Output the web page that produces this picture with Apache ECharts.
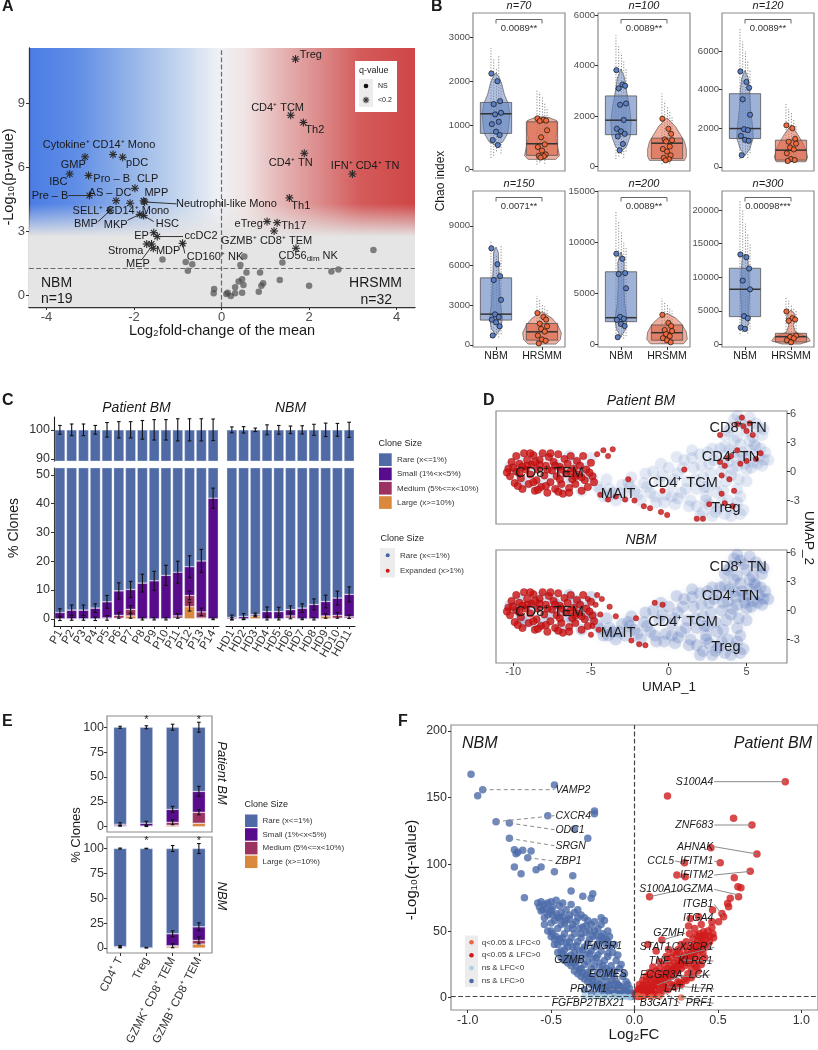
<!DOCTYPE html>
<html>
<head>
<meta charset="utf-8">
<script src="https://cdn.jsdelivr.net/npm/echarts@6.0.0/dist/echarts.min.js"></script>
<style>
html,body{margin:0;padding:0;background:#ffffff;}
#chart{width:818px;height:1050px;}
</style>
</head>
<body>
<div id="chart"></div>
<script>
// ================= PANEL A : volcano of cell types =================
const aNsPoints = [[-1.35,1.69],[-0.82,1.58],[-0.67,1.47],[-0.77,1.17],[-0.17,0.31],[-0.18,0.11],[0.11,0.08],[0.14,0.14],[0.21,-0.02],[0.31,0.39],[0.31,0.11],[0.39,0.66],[0.47,0.77],[0.47,0.14],[0.50,0.50],[0.57,1.08],[0.43,1.44],[0.52,1.83],[0.85,0.19],[0.88,1.08],[0.91,0.47],[0.95,0.58],[1.33,0.73],[1.39,1.55],[2.0,0.47],[2.51,1.13],[2.67,1.23],[3.47,2.14]];
const aSigPoints = [[1.69,11.08],[1.58,8.45],[1.87,8.11],[1.89,6.67],[2.99,5.70],[1.55,4.58],[1.04,3.47],[1.27,3.42],[1.20,3.03],[1.70,2.22],[-0.89,2.45],[-2.48,6.61],[-3.12,6.50],[-2.26,6.48],[-3.47,5.70],[-3.04,5.63],[-1.98,5.03],[-3.02,4.69],[-2.41,4.45],[-1.78,4.44],[-1.76,4.39],[-2.09,4.33],[-2.55,4.00],[-1.87,3.81],[-1.78,3.75],[-1.55,2.95],[-1.47,2.77],[-1.71,2.42],[-1.56,2.22],[-1.60,2.42]];
const aLabelText = ['Treg','CD4⁺ TCM','Th2','CD4⁺ TN','IFN⁺ CD4⁺ TN','Th1','eTreg','Th17','GZMB⁺ CD8⁺ TEM','{a|CD56}{b|dim}{a| NK}','CD160⁺ NK','Cytokine⁺ CD14⁺ Mono','GMP','pDC','IBC','Pro – B','CLP','Pre – B','AS – DC','MPP','Neutrophil-like Mono','SELL⁺ CD14⁺ Mono','BMP','MKP','HSC','EP','ccDC2','Stroma','MDP','MEP'];
const aLabelX = [2.04,1.28,2.13,1.58,3.28,1.81,0.62,1.65,1.03,1.98,-0.15,-2.80,-3.39,-1.93,-3.73,-2.51,-1.69,-3.92,-2.55,-1.49,0.11,-2.30,-3.10,-2.42,-1.24,-1.83,-0.47,-2.19,-1.22,-1.91];
const aLabelY = [11.28,8.81,7.77,6.2,6.08,4.2,3.36,3.28,2.55,1.86,1.80,7.06,6.13,6.2,5.34,5.47,5.47,4.69,4.80,4.83,4.30,3.95,3.34,3.31,3.34,2.81,2.80,2.11,2.11,1.47];
const aLinks = [[-3.50,4.69,-3.02,4.69],[-1.76,4.39,-1.03,4.30],[-2.82,3.47,-2.55,3.98],[-2.15,3.53,-1.87,3.81],[-1.55,3.47,-1.78,3.75],[-1.45,2.77,-0.88,2.77],[-1.83,1.67,-1.60,2.30],[-0.89,2.45,-0.84,1.98]];
const aTicksX = [-4,-2,0,2,4];
const aTicksY = [0,3,6,9];

// ================= PANEL B : Chao index =================
const bGroups = ['NBM','HRSMM'];
const bTitles = ['n=70','n=100','n=120','n=150','n=200','n=300'];
const bPvals = ['0.0089**','0.0089**','0.0089**','0.0071**','0.0089**','0.00098***'];
const bRanges = [[-45,3544],[-170,6080],[-220,7980],[-170,11640],[-265,15060],[-400,22860]];
const bTicks = [[0,1000,2000,3000],[0,2000,4000,6000],[0,2000,4000,6000],[0,3000,6000,9000],[0,5000,10000,15000],[0,5000,10000,15000,20000]];
const bNbmBox = [[809,1255,1512],[1267,1840,2800],[1465,1983,3793],[1865,2318,5065],[2222,2614,7124],[4129,8209,11343]];
const bHrsBox = [[310,574,1073],[320,930,1130],[345,862,1380],[350,980,1610],[400,1140,1900],[350,1140,1640]];
const bNbmDots = [
  [2169,1995,1542,1474,1277,1240,1073,1020,847,771,658,544],
  [3820,3250,3200,3100,2500,2450,1850,1500,1400,1300,1200,900,650],
  [4950,4400,4100,3500,2700,1950,1900,1600,1400,1350,600],
  [7300,6100,5200,4900,3400,2300,2100,1900,1700,1400,700],
  [8900,8400,7000,6900,5500,2700,2500,2400,2000,1800,700],
  [13400,13000,11300,9500,8200,4200,3900,2500,2300]];
const bHrsDots = [
  [1150,1120,1100,1090,880,720,560,500,420,330,300,290,260],
  [1900,1500,1300,1080,1050,1000,800,700,600,450,350,300,250],
  [2150,2000,1450,1300,1200,1000,900,700,400,350,300],
  [2400,2100,1900,1600,1400,1200,1000,700,400,300,100],
  [2900,2100,1800,1400,1300,1000,800,600,400,200],
  [4900,3900,3700,3500,1300,1100,900,600,300]];
const bNbmCi = [
  [[250,2750],[300,2500],[400,2300],[500,2600],[350,2000]],
  [[300,5200],[400,4800],[500,4500],[350,4200],[600,3900]],
  [[400,7200],[500,6500],[600,6000],[450,5500],[700,5000]],
  [[500,7800],[600,7200],[700,6800],[550,6300],[800,7500]],
  [[500,13000],[600,12000],[700,11000],[550,10000],[800,9500]],
  [[1500,21500],[1800,20000],[2000,18000],[1600,16500],[2200,15000]]];
const bHrsCi = [
  [[100,1800],[150,1750],[200,1650],[120,1500],[250,1400]],
  [[100,2900],[150,2600],[200,2400],[120,2200],[250,2000]],
  [[150,3300],[200,3000],[250,2800],[180,2500],[300,2200]],
  [[50,3700],[100,3400],[150,3100],[80,2900],[200,2700]],
  [[50,4500],[100,4200],[150,3900],[80,3600],[200,3300]],
  [[50,7000],[100,6500],[150,6000],[80,5500],[200,5000]]];
const bNbmViolin = [
  [[529,0],[620,0.15],[800,0.25],[1000,0.28],[1250,0.3],[1500,0.26],[1700,0.18],[1950,0.12],[2100,0.06],[2184,0]],
  [[600,0],[800,0.12],[1200,0.2],[1800,0.22],[2400,0.18],[3000,0.12],[3500,0.08],[3867,0]],
  [[600,0],[900,0.1],[1500,0.18],[2200,0.16],[3000,0.12],[4000,0.1],[4600,0.07],[5000,0]],
  [[730,0],[1200,0.1],[2000,0.14],[3000,0.1],[4500,0.08],[6000,0.06],[7000,0.05],[7400,0]],
  [[750,0],[1500,0.1],[2500,0.13],[4000,0.08],[6000,0.06],[8000,0.07],[9085,0]],
  [[2140,0],[3000,0.08],[5000,0.08],[8000,0.1],[11000,0.08],[13000,0.06],[13482,0]]];
const bHrsViolin = [
  [[219,0.3],[300,0.38],[500,0.34],[700,0.3],[900,0.33],[1100,0.32],[1170,0.15],[1187,0]],
  [[250,0.38],[400,0.42],[700,0.42],[1000,0.38],[1300,0.28],[1600,0.18],[1930,0]],
  [[260,0.32],[500,0.36],[900,0.32],[1300,0.24],[1700,0.14],[2155,0]],
  [[50,0.3],[400,0.4],[900,0.42],[1500,0.34],[2000,0.22],[2500,0]],
  [[50,0.36],[500,0.44],[1200,0.42],[2000,0.32],[2600,0.18],[3040,0]],
  [[50,0.2],[500,0.42],[1100,0.36],[1800,0.1],[2800,0.05],[3800,0.1],[4500,0.08],[5124,0]]];

// ================= PANEL C : clone size per sample =================
const cPatients = ['P1','P2','P3','P4','P5','P6','P7','P8','P9','P10','P11','P12','P13','P14'];
const cDonors = ['HD1','HD2','HD3','HD4','HD5','HD6','HD7','HD8','HD9','HD10','HD11'];
const cPatExpanded = [2.2,3.0,3.0,3.7,5.9,9.7,10.2,12.4,13.2,15.1,16.2,18.1,20.1,41.9];
const cPatMedium = [0,0,0,0,0.3,1.0,2.3,0,0,0,0.8,3.9,2.1,0];
const cPatLarge = [0,0,0,0,0,0.2,1.0,0,0,0,0.2,4.2,0.3,0];
const cPatErrTop = [1.5,2,2,1.5,2.5,2.8,2.8,3.2,3.5,3.5,3.8,3.8,3.8,3.7];
const cPatErrExp = [1.3,1.8,1.8,1.5,2.2,2.8,2.8,3.1,3.3,3.5,3.8,3.8,4.0,3.5];
const cPatErrMed = [0.6,0.5,0.5,0.6,0.8,1.0,1.3,0.4,0.4,0.4,0.8,1.5,1.3,0.3];
const cPatErrLarge = [0,0,0,0,0,0,0.8,0,0,0,0,1.5,0,0];
const cHdExpanded = [0.5,0.8,1.5,2.5,2.5,3.2,3.7,5.0,6.0,7.2,8.5];
const cHdMedium = [0,0,0,0,0,0.8,0,0,0,1.0,0.5];
const cHdLarge = [0,0,1.0,0,0,0.2,0,0,1.0,0.2,0.2];
const cHdErrTop = [1,1.1,0.6,1.7,1.5,1.3,1.4,1.9,2.3,2.2,2.6];
const cHdErrExp = [0.8,1,0.5,1.6,1.5,1.3,1.5,1.9,2.2,2.4,2.6];
const cHdErrMed = [0.4,0.3,0.3,0.4,0.4,1.0,0.3,0.4,0.8,1.0,0.6];
const cTicksTop = [90,100];
const cTicksBottom = [0,10,20,30,40,50];
const cloneSizeNames = ['Rare (x<=1%)','Small (1%<x<5%)','Medium (5%<=x<10%)','Large (x>=10%)'];

// ================= PANEL D : UMAP =================
const dBlueCloud = [[-10.2,0.5],[-9.6,1.2],[-9.5,-0.8],[-8.8,0.3],[-8.5,-1.5],[-8.2,1.4],[-7.6,-0.4],[-7.4,1.0],[-7,-1.8],[-6.8,0.2],[-6.4,1.6],[-6.2,-1],[-5.8,0.6],[-5.6,-2],[-5.2,-0.5],[-5,1.4],
 [-4.6,-1.5],[-4.2,-2.6],[-4,-0.8],[-3.6,-2.2],[-3.4,-3],[-3,-1.4],[-2.8,-2.6],[-2.4,-0.6],[-2.2,-2],[-1.8,-3],[-1.6,-1.2],[-1.2,-2.2],[-1,0],[-0.8,-3.2],[-0.6,-1],[-0.2,-2.4],[0,0.4],[0.2,-1.4],[0.4,-3.4],[0.6,-0.2],[0.8,-2.2],[1,1.2],[1.2,-1],[1.4,-3],[1.6,0.4],[1.8,-1.8],[2,1.8],[2.2,-0.6],[2.4,-2.6],[2.6,0.8],[2.8,2.4],[3,-1.2],[3.2,1.6],[3.4,0],
 [3.6,2.6],[3.8,1],[4,-0.4],[4.2,2],[4.4,0.6],[4.6,2.8],[4.8,1.4],[5,0.2],[5.2,2.2],[5.4,1],[5.6,2.6],[5.8,1.6],[6,0.6],[6.2,2],[6.4,1.2],
 [1.8,-3.6],[2.2,-4.2],[2.6,-3.4],[2.8,-4.6],[3.2,-3.8],[3.6,-4.4],[3.8,-3],[4.2,-3.8],[4.6,-2.6],[4.8,-4],[4.4,-1.8],[5,-1],
 [3.6,3.8],[4,4.6],[4.4,3.6],[4.6,5.2],[5,4.2],[5.2,5.6],[5.4,3.6],[5.8,4.6],[6,3.8],[4.2,5.4],
 [-0.5,0.8],[0.5,1.5],[1.5,2.2],[-1.5,-0.2],[2.5,-1.6],[3.5,-2],[0.2,-2.6],[-2.5,-1.6],[-3.8,-1.8],
 [-9.8,0.2],[-9.2,-1.2],[-8.6,0.9],[-7.9,-1.2],[-7.2,0.6],[-6.6,-0.6],[-6,1.0],[-5.4,0.3],[-4.9,-0.6],[-4.4,-1.9],[-3.9,-2.6],[-3.2,-2.2],[-2.6,-1.2],[-2,-2.4],[-1.4,-1.6],[-0.9,-2.6],[-0.4,-0.4],[-0.3,-3.2],[0.3,-0.8],[0.6,-2.8],[0.9,0.4],[1.1,-1.8],[1.3,-3.6],[1.5,1.4],[1.7,-0.8],[2.1,0.6],[2.3,-1.6],[2.5,2],[2.7,-0.2],[2.9,1.2],[3.1,-2.2],[3.3,2.4],[3.5,0.8],[3.7,-1],[3.9,2.2],[4.1,0.2],[4.3,1.4],[4.5,-0.8],[4.7,2],[4.9,0.8],[5.1,1.6],[5.3,0.4],[5.5,2.8],[5.7,0.8],[5.9,2.4],[6.1,1.2],[2,-4.6],[2.4,-3],[3,-4.2],[3.4,-3.2],[4,-4.6],[4.4,-3.2],[4.6,-4.4],[3.8,4.2],[4.2,3.2],[4.8,4.8],[5.6,5],[5.2,3.2],[4.4,5.8],[6.1,4.4]];
const dRedBlob = [[-10.3,0.3],[-10.2,-0.5],[-10.1,1.0],[-9.9,-1.2],[-9.8,0.0],[-9.8,1.6],[-9.6,0.8],[-9.5,-0.7],[-9.4,-1.8],[-9.3,1.9],[-9.2,0.2],[-9.1,1.2],[-9.0,-1.3],[-8.9,-0.3],[-8.8,0.7],[-8.7,1.7],[-8.6,-2.0],[-8.5,-0.9],[-8.4,0.2],[-8.3,1.2],[-8.2,-1.6],[-8.1,1.9],[-8.0,-0.4],[-7.9,0.6],[-7.8,-2.2],[-7.7,1.5],[-7.6,-1.1],[-7.5,0.1],[-7.4,1.0],[-7.3,-1.8],[-7.2,-0.5],[-7.1,1.8],[-7.0,0.5],[-6.9,-1.3],[-6.8,-2.3],[-6.7,1.3],[-6.6,-0.2],[-6.5,0.8],[-6.4,-1.7],[-6.3,1.6],[-6.2,-0.8],[-6.1,0.3],[-6.0,-1.3],[-5.9,1.1],[-5.8,-0.3],[-5.7,0.6],[-5.6,-2.0],[-5.5,1.6],[-5.4,-0.9],[-5.3,0.2],[-5.2,-1.6],[-5.0,0.9],[-4.9,-0.5],[-4.8,-1.1],[-9.6,-0.2],[-8.7,-1.1],[-7.9,-1.5],[-6.9,0.2],[-8.3,0.7],[-9.1,0.6],[-7.3,0.6],[-6.0,-0.5],[-7.6,1.9],[-10.0,0.4],[-8.9,1.9],[-10.4,-0.1],[-9.7,-1.5],[-8.4,-1.9],[-7.1,-2.1],[-6.4,-2.2],[-9.4,0.5],[-8.6,1.0],[-7.8,0.2],[-7.0,-0.8],[-6.3,0.0],[-5.6,-0.6],[-5.1,-0.1]];
const dRedPatient = [[-4.6,1.8],[-4.2,2.2],[-3.9,1.6],[-3.6,2.3],[-4.4,-2.4],[-3.9,-2.9],[-3.4,-2.6],[-2.6,-0.8],[-2.8,-2.9],[-2.2,-3.0],[-1.6,-3.6],[-1.2,-3.8],[-0.5,-4.2],[-0.1,-4.5],[1.8,-4.9],[2.2,-4.9],[3.6,-3.3],[3.4,-2.3],[4.2,-2],[4.1,-3.6],[3.4,-0.4],[3.9,-0.8],[1.0,0.2],[-0.4,-2],[3.3,3.8],[3.3,1.0],[3.6,0.6],[4.0,1.6],[4.6,0.8],[5.0,1.1],[5.6,1.3],[4.4,4.9],[4.8,4.7],[5.0,4.2],[5.4,3.8],[5.2,5.0],[4.7,5.6],[5.9,1.9],[4.4,2.2],[3.8,1.4],[2.6,-3.4]];
const dRedNbm = [[-4.6,1.6],[-4.3,1.2],[-3.8,0.4],[-3.4,-0.6],[-2.4,-3.1],[-1.9,-3.5],[-5.0,-2.5],[-4.5,-2.0],[-2.1,-0.8],[-0.4,0.6],[-4.7,0.6],[-4.4,-0.4],[-5.2,1.2],[-4.9,-1.6],[-1.5,-3.6],[-0.9,0.8]];
const dLabelText = ['CD8⁺ TN','CD4⁺ TN','CD8⁺ TEM','MAIT','CD4⁺ TCM','Treg'];
const dLabelX = [4.46,3.97,-7.66,-3.25,0.92,3.67];
const dLabelY = [4.51,1.55,-0.10,-2.31,-1.19,-3.8];
const dTicksX = [-10,-5,0,5];
const dTicksY = [-3,0,3,6];

// ================= PANEL E : clone size per cell type =================
const eCats = ['CD4⁺ T','Treg','GZMK⁺ CD8⁺ TEM','GZMB⁺ CD8⁺ TEM'];
const ePatExpanded = [2.5,3.5,17.5,35.5];
const ePatMedium = [0.8,0.5,3.0,11.0];
const ePatLarge = [0.3,0.2,1.5,3.5];
const ePatErrTop = [1,1.5,3,5];
const ePatErrExp = [1.5,2,3,5];
const ePatErrMed = [0.5,0.5,2.5,2.5];
const eNbmExpanded = [1.5,0.3,14.3,21.3];
const eNbmMedium = [0.5,0,0.8,3.7];
const eNbmLarge = [0.2,0,1.5,4.0];
const eNbmErrTop = [0.5,0.3,3,5];
const eNbmErrExp = [1,0.3,3,4];
const eNbmErrMed = [0.5,0,2,3.5];
const eStars = ['','*','','*'];
const eTicks = [0,25,50,75,100];

// ================= PANEL F : DE volcano =================
const fBlue = [[-0.98,167.5],[-0.91,156],[-0.94,151.5],[-0.48,159.5],[-0.83,132],[-0.75,131],[-0.52,136.5],[-0.36,126.5],[-0.24,140],[-0.24,138],[-0.75,119.5],[-0.28,119.5],[-0.72,111],[-0.70,109],[-0.67,110.5],[-0.62,110],[-0.64,105],[-0.71,108],[-0.72,98],[-0.68,93],[-0.59,96],[-0.56,98],[-0.48,94.5],[-0.37,91.5],[-0.38,80],[-0.66,75],[-0.31,76],[-0.25,78],[-0.26,74.5],
 [-0.58,71],[-0.56,72],[-0.54,70],[-0.52,71],[-0.5,72],[-0.49,68],[-0.47,73],[-0.45,69],[-0.43,71],[-0.41,66],[-0.38,70],[-0.36,64],[-0.34,66],[-0.32,62],[-0.3,60],[-0.28,58],[-0.26,55],[-0.24,57],[-0.22,52],[-0.2,55],[-0.19,48],[-0.17,44],
 [-0.56,65],[-0.54,60],[-0.52,62],[-0.5,56],[-0.48,58],[-0.46,52],[-0.44,55],[-0.42,48],[-0.4,52],[-0.38,45],[-0.36,48],[-0.34,42],[-0.32,45],[-0.3,38],[-0.28,41],[-0.26,35],[-0.24,38],[-0.22,32],[-0.2,35],[-0.18,28],[-0.16,31],[-0.14,24],
 [-0.52,50],[-0.5,46],[-0.48,44],[-0.46,40],[-0.44,42],[-0.42,36],[-0.4,38],[-0.38,32],[-0.36,34],[-0.34,28],[-0.32,30],[-0.3,25],[-0.28,27],[-0.26,22],[-0.24,24],[-0.22,19],[-0.2,21],[-0.18,16],[-0.16,18],[-0.14,13],[-0.12,15],[-0.1,10],
 [-0.46,34],[-0.44,30],[-0.42,28],[-0.4,26],[-0.38,24],[-0.36,20],[-0.34,18],[-0.32,16],[-0.3,14],[-0.28,12],[-0.26,10],[-0.24,9],[-0.22,8],[-0.2,7],[-0.18,6],[-0.16,5],[-0.14,5],[-0.12,4],[-0.1,3],[-0.08,2.5],[-0.06,2],[-0.04,1.5],[-0.02,1],
 [-0.3,6],[-0.26,4],[-0.22,3],[-0.18,2.5],[-0.14,7],[-0.1,6],[-0.06,5],[-0.04,4],[-0.02,3],[-0.08,8],[-0.12,10],[-0.16,12],[-0.2,14],[-0.24,16],[-0.28,19],[-0.32,22],[-0.36,26],[-0.4,30],[-0.44,35],[-0.48,40],[-0.5,50],[-0.54,55],[-0.57,68],
 [-0.18,58],[-0.2,60],[-0.16,50],[-0.15,46],[-0.12,40],[-0.1,32],[-0.08,25],[-0.06,18],[-0.04,10],[-0.16,33],[-0.35,30],[-0.12,20],
 [-0.55,66],[-0.53,67],[-0.51,64],[-0.49,62],[-0.47,63],[-0.45,60],[-0.43,61],[-0.41,58],[-0.39,59],[-0.37,55],[-0.35,57],[-0.33,52],[-0.31,53],[-0.29,49],[-0.27,50],[-0.25,46],[-0.23,47],[-0.21,43],[-0.19,44],[-0.17,40],[-0.15,38],[-0.13,34],[-0.11,28],[-0.09,22],[-0.07,16],[-0.05,12],[-0.03,7],[-0.01,3],[-0.49,48],[-0.47,46],[-0.45,44],[-0.43,45],[-0.41,41],[-0.39,42],[-0.37,38],[-0.35,39],[-0.33,35],[-0.31,36],[-0.29,32],[-0.27,33],[-0.25,29],[-0.23,30],[-0.21,26],[-0.19,24],[-0.17,22],[-0.15,20],[-0.13,18],[-0.11,12],[-0.09,9],[-0.07,7],[-0.05,5],[-0.43,33],[-0.41,31],[-0.39,29],[-0.37,27],[-0.35,23],[-0.33,21],[-0.31,19],[-0.29,17],[-0.27,15],[-0.25,13],[-0.23,11],[-0.21,10],[-0.19,9],[-0.17,8],[-0.15,9],[-0.13,6],[-0.11,5],[-0.09,4],[-0.07,3],[-0.05,2.5],[-0.03,2],[-0.01,1.5],[-0.5,66],[-0.44,64],[-0.39,62],[-0.34,60],[-0.29,54],[-0.24,50],[-0.2,46],[-0.16,42],[-0.22,40],[-0.27,44],[-0.32,48],[-0.37,52],[-0.42,56],[-0.46,60]];
const fLightBlue = [[-0.3,1],[-0.26,0.5],[-0.22,1.5],[-0.18,0.8],[-0.15,0.3],[-0.12,1.2],[-0.09,0.5],[-0.06,0.8],[-0.03,0.4],[-0.2,0.2]];
const fSalmon = [[0.02,1.5],[0.05,0.8],[0.28,0.25],[0.1,0.5],[0.15,1]];
const fRed = [[0.904,162],[0.198,151.25],[0.594,134.5],[0.704,129.5],[0.458,112.5],[0.734,107.75],[0.30,101.25],[0.514,101.25],[0.694,94.75],[0.254,92],[0.304,90.75],[0.598,90],[0.62,83.25],[0.638,82.5],[0.624,75.75],[0.574,74.5],[0.09,75.75],[0.558,70.75],[0.564,68.25],[0.468,65.75],[0.524,63.25],[0.534,60.75],[0.334,59.5],[0.384,60.75],[0.464,57],[0.504,57],[0.324,53.75],[0.464,52.75],[0.414,49.5],[0.474,45],[0.424,47],[0.384,45.75],[0.164,43.25],[0.204,36.25],
 [0.40,44],[0.38,42],[0.36,40],[0.42,40],[0.34,38],[0.4,36],[0.32,35],[0.38,33],[0.3,32],[0.36,30],[0.28,30],[0.34,28],[0.26,28],[0.32,26],[0.24,26],[0.3,24],[0.22,24],[0.28,22],[0.2,22],[0.26,20],[0.18,20],[0.24,18],[0.16,18],[0.22,16],[0.14,16],[0.2,14],[0.12,14],[0.18,12],[0.1,12],[0.16,10],[0.08,10],[0.14,9],[0.06,8],[0.12,7],[0.04,6],[0.1,5],[0.02,4],[0.08,3.5],[0.01,2],[0.06,2],[0.04,1],[0.12,2.5],[0.16,4],[0.2,6],[0.24,8],[0.28,10],[0.3,14],[0.32,18],[0.34,22],[0.36,25],[0.25,32],[0.22,30],[0.3,38],[0.35,44],[0.2,28],[0.18,25],[0.15,22],[0.13,20],[0.11,17],[0.09,15],[0.07,12],[0.05,9],[0.03,7],[0.26,36],[0.28,40],[0.33,48],[0.36,52],[0.4,55],[0.44,50],[0.47,48],[0.45,42],[0.43,38],[0.39,48],[0.13,35],[0.08,40],[0.34,15],[0.38,20],[0.4,25],[0.42,30],[0.18,8],[0.22,10],[0.26,12],[0.1,8],
 [0.02,1],[0.03,3],[0.05,4],[0.07,5],[0.09,7],[0.11,9],[0.13,11],[0.15,13],[0.17,15],[0.19,17],[0.21,19],[0.23,21],[0.25,23],[0.27,25],[0.29,27],[0.31,29],[0.33,31],[0.35,33],[0.37,36],[0.39,38],[0.41,41],[0.06,6],[0.08,6.5],[0.1,7.5],[0.12,10],[0.14,12],[0.16,14],[0.18,16],[0.2,18],[0.22,20],[0.24,22],[0.26,24],[0.28,26],[0.3,28],[0.32,30],[0.34,33],[0.36,35],[0.38,37],[0.03,2],[0.07,2.5],[0.11,3],[0.15,5],[0.19,7],[0.23,9],[0.27,11],[0.31,13],[0.35,17],[0.37,23],[0.39,28],[0.41,34],[0.43,44],[0.45,46],[0.41,46],[0.37,47],[0.31,42],[0.27,34],[0.23,34],[0.19,31],[0.15,27],[0.11,23],[0.09,19],[0.07,16],[0.05,13],[0.03,10],[0.02,6],[0.01,4]];
// gene label: [name, pointX, pointY, labelX, labelY, anchor]
const fLabels = [
 ['VAMP2',-0.91,156,-0.48,156,'left'],['CXCR4',-0.83,132,-0.48,136.5,'left'],['ODC1',-0.75,131,-0.48,126,'left'],['SRGN',-0.75,119.5,-0.48,114,'left'],['ZBP1',-0.64,105,-0.48,102.5,'left'],
 ['IFNGR1',-0.16,30,-0.19,38.75,'center'],['GZMB',-0.35,20,-0.39,28,'center'],['EOMES',-0.09,14,-0.16,17.5,'center'],['PRDM1',-0.08,6,-0.16,6.5,'right'],['FGFBP2',-0.36,-0.5,-0.374,-4.25,'center'],['TBX21',-0.12,2,-0.156,-4.25,'center'],
 ['S100A4',0.904,162,0.478,162,'right'],['ZNF683',0.704,129.5,0.478,129.5,'right'],['AHNAK',0.734,107.75,0.478,113.25,'right'],['CCL5',0.30,101.25,0.244,102.5,'right'],['IFITM1',0.514,101.25,0.478,102.5,'right'],['IFITM2',0.694,94.75,0.478,92,'right'],['S100A10',0.09,75.75,0.294,81.25,'right'],['GZMA',0.624,77,0.478,81.25,'right'],['ITGB1',0.534,60.75,0.478,70,'right'],['ITGA4',0.374,59.5,0.478,59.5,'right'],['GZMH',0.164,43.25,0.304,48.25,'right'],['STAT1',0.204,36.25,0.224,37.75,'right'],['CX3CR1',0.254,30.75,0.478,37.75,'right'],['TNF',0.134,25.75,0.214,27.5,'right'],['KLRG1',0.294,28.25,0.474,27.5,'right'],['FCGR3A',0.134,9.5,0.294,17,'right'],['LCK',0.274,15.75,0.454,17,'right'],['LAT',0.194,8.25,0.294,6.5,'right'],['IL7R',0.294,8.25,0.478,6.5,'right'],['B3GAT1',0.174,4.5,0.274,-4.25,'right'],['PRF1',0.28,0.25,0.474,-4.25,'right']];
const fTicksX = [-1,-0.5,0,0.5,1];
const fTicksY = [0,50,100,150,200];
const fLegendNames = ['q<0.05 & LFC<0','q<0.05 & LFC>0','ns & LFC<0','ns & LFC>0'];

// ================= RENDERING =================
const FONT = '"Liberation Sans", Arial, Helvetica, sans-serif';
const COL = {rare:'#4f6aa4', small:'#580c8c', medium:'#9c3262', large:'#d9883e'};
const JIT_DOT = [-0.1,0.03,0.09,-0.05,0.11,-0.02,0.06,-0.09,0.0,0.08,-0.07,0.04,-0.03];
const JIT_CI = [-0.11,-0.05,0.01,0.06,0.11];
const chart = echarts.init(document.getElementById('chart'));
const grid = [], xAxis = [], yAxis = [], series = [], graphic = [];
const plainNum = v => String(v);

function sty(o){ if(o.align){o.textAlign=o.align;} if(o.verticalAlign){o.textVerticalAlign=o.verticalAlign;} return o; }
function gText(x,y,text,font,opt){
  opt = opt||{};
  graphic.push({type:'text', x:x, y:y, z:100, silent:true, rotation:opt.rotation||0,
    style:sty({text:text, font:font, fill:opt.fill||'#1a1a1a', align:opt.align||'center', verticalAlign:opt.va||'middle'})});
}
function gRect(x,y,w,h,fill,stroke){ graphic.push({type:'rect', z:99, silent:true, shape:{x:x,y:y,width:w,height:h}, style:{fill:fill, stroke:stroke||null, lineWidth:stroke?1:0}}); }
function gCircle(cx,cy,r,fill){ graphic.push({type:'circle', z:100, silent:true, shape:{cx:cx,cy:cy,r:r}, style:{fill:fill}}); }
function addGrid(g){ grid.push(g); return grid.length-1; }
function vAxis(gi,min,max,ticks,o){
  o=o||{};
  const lab = {show:o.label!==false, customValues:ticks, fontSize:o.fs||12, color:o.lc||'#4d4d4d', fontFamily:FONT, margin:(o.margin==null?4:o.margin), formatter:o.fmt||plainNum};
  return {type:'value', gridIndex:gi, min:min, max:max, position:o.pos, splitLine:{show:false},
    axisLine:{show:!!o.line, onZero:false, lineStyle:{color:o.lineColor||'#1a1a1a', width:o.lineWidth||1.1}},
    axisTick:{show:o.tick!==false, customValues:ticks, length:3, lineStyle:{color:'#333', width:1}},
    axisLabel:lab};
}
function cAxis(gi,cats,o){
  o=o||{};
  return {type:'category', gridIndex:gi, data:cats, boundaryGap:true, splitLine:{show:false},
    axisLine:{show:!!o.line, onZero:false, lineStyle:{color:'#1a1a1a', width:1.1}},
    axisTick:{show:!!o.tick, alignWithLabel:true, length:3, lineStyle:{color:'#333'}},
    axisLabel:{show:!!o.label, interval:0, rotate:o.rotate||0, fontSize:o.fs||11, color:o.lc||'#1a1a1a', fontFamily:FONT, margin:o.margin||4}};
}
function textSeries(gi, xs, ys, texts, font, extra){
  series.push({type:'custom', xAxisIndex:gi, yAxisIndex:gi, silent:true, z:8,
    data: xs.map((x,k)=>[x, ys[k]]),
    renderItem:function(p,api){
      const c = api.coord([api.value(0), api.value(1)]);
      return {type:'text', x:c[0], y:c[1], style:sty(Object.assign({text:texts[p.dataIndex], font:font, fill:'#1a1a1a', align:'center', verticalAlign:'middle'}, extra||{}))};
    }});
}
function errSeries(gi, items){
  series.push({type:'custom', xAxisIndex:gi, yAxisIndex:gi, silent:true, z:7, data:items,
    renderItem:function(p,api){
      const x = api.coord([api.value(0), 0])[0];
      const y1 = api.coord([api.value(0), api.value(1)-api.value(2)])[1];
      const y2 = api.coord([api.value(0), api.value(1)+api.value(2)])[1];
      const st = {stroke:'#111', lineWidth:1.1};
      return {type:'group', children:[
        {type:'line', shape:{x1:x,y1:y1,x2:x,y2:y2}, style:st},
        {type:'line', shape:{x1:x-1.8,y1:y1,x2:x+1.8,y2:y1}, style:st},
        {type:'line', shape:{x1:x-1.8,y1:y2,x2:x+1.8,y2:y2}, style:st}]};
    }});
}
function stackBars(gi, expanded, medium, large, barOpt){
  const smallPart = expanded.map((t,k)=>t - medium[k] - large[k]);
  const rare = expanded.map(t=>100 - t);
  [[large,COL.large],[medium,COL.medium],[smallPart,COL.small],[rare,COL.rare]].forEach(function(s){
    series.push(Object.assign({type:'bar', xAxisIndex:gi, yAxisIndex:gi, stack:'s'+gi, data:s[0], silent:true,
      itemStyle:{color:s[1], borderColor:'rgba(230,235,245,0.55)', borderWidth:0.6}}, barOpt));
  });
}
function asteriskShape(x,y,r,stroke){
  const d = r*0.72, st = {stroke:stroke||'#2b2b2b', lineWidth:1.1};
  return [
    {type:'line', shape:{x1:x-r,y1:y,x2:x+r,y2:y}, style:st},
    {type:'line', shape:{x1:x,y1:y-r,x2:x,y2:y+r}, style:st},
    {type:'line', shape:{x1:x-d,y1:y-d,x2:x+d,y2:y+d}, style:st},
    {type:'line', shape:{x1:x-d,y1:y+d,x2:x+d,y2:y-d}, style:st}];
}

// ---------- Panel A ----------
const gA = addGrid({left:29, top:48, width:386, height:259, show:true, borderWidth:0,
  backgroundColor:{type:'linear', x:0, y:0, x2:1, y2:0, colorStops:[
    {offset:0,color:'#4a7de4'},{offset:0.12,color:'#5f8de6'},{offset:0.25,color:'#8fb0e8'},{offset:0.38,color:'#c0d3ee'},
    {offset:0.49,color:'#eef0f5'},{offset:0.56,color:'#f0e4e4'},{offset:0.65,color:'#e6b6b6'},{offset:0.75,color:'#dc8c8c'},
    {offset:0.86,color:'#d45a5a'},{offset:1,color:'#cf4646'}]}});
xAxis.push(vAxis(gA,-4.4,4.42,aTicksX,{line:true, lineColor:'#333', lineWidth:1.3, fs:13, margin:4}));
yAxis.push(vAxis(gA,-0.53,11.6,aTicksY,{line:true, lineColor:'#333', lineWidth:1.3, fs:13, margin:4}));
series.push({type:'scatter', xAxisIndex:gA, yAxisIndex:gA, data:aNsPoints, symbolSize:6.5, silent:true, z:4,
  itemStyle:{color:'rgba(75,75,75,0.85)'},
  markArea:{silent:true, itemStyle:{color:{type:'linear',x:0,y:0,x2:0,y2:1,colorStops:[{offset:0,color:'rgba(229,229,229,0)'},{offset:0.32,color:'rgba(229,229,229,1)'},{offset:1,color:'rgba(229,229,229,1)'}]}},
    data:[[{yAxis:4.3},{yAxis:-0.53}]]},
  markLine:{silent:true, symbol:['none','none'], label:{show:false}, lineStyle:{type:'dashed', color:'#6b6b6b', width:1.2},
    data:[{xAxis:0},{yAxis:1.3}]}});
series.push({type:'custom', xAxisIndex:gA, yAxisIndex:gA, silent:true, z:6, data:aSigPoints,
  renderItem:function(p,api){ const c = api.coord([api.value(0),api.value(1)]); return {type:'group', children:asteriskShape(c[0],c[1],4)}; }});
series.push({type:'custom', xAxisIndex:gA, yAxisIndex:gA, silent:true, z:5, data:aLinks,
  renderItem:function(p,api){ const a = api.coord([api.value(0),api.value(1)]), b = api.coord([api.value(2),api.value(3)]);
    return {type:'line', shape:{x1:a[0],y1:a[1],x2:b[0],y2:b[1]}, style:{stroke:'#333', lineWidth:1}}; }});
textSeries(gA, aLabelX, aLabelY, aLabelText, '11px '+FONT, {rich:{a:{fontSize:11, fontFamily:FONT, fill:'#1a1a1a', lineHeight:14}, b:{fontSize:8, fontFamily:FONT, fill:'#1a1a1a', lineHeight:14, verticalAlign:'bottom', padding:[5,0,0,0]}}});
gText(41,283,'NBM','14px '+FONT,{align:'left'});
gText(41,299,'n=19','14px '+FONT,{align:'left'});
gText(402,283,'HRSMM','14px '+FONT,{align:'right'});
gText(392,300,'n=32','14px '+FONT,{align:'right'});
gText(222,331,'Log₂fold-change of the mean','14.5px '+FONT);
gText(9,177,'-Log₁₀(p-value)','14.5px '+FONT,{rotation:Math.PI/2});
gRect(355,61,42,51,'#ffffff');
gText(359,71,'q-value','9px '+FONT,{align:'left'});
gRect(359,79,14,14,'#ececec'); gRect(359,93,14,14,'#ececec');
gCircle(366,86,2.3,'#111');
asteriskShape(366,100,3.2,'#333').forEach(el=>{el.z=100; el.silent=true; graphic.push(el);});
gText(378,86,'NS','7px '+FONT,{align:'left'});
gText(378,100,'<0.2','7px '+FONT,{align:'left'});

// ---------- Panel B ----------
const bLeft=[473,598,722], bTop=[13,191], bH=[158,156], bW=92;
function makeBRender(i){
  return function(p,api){
    const g = p.dataIndex;
    const bw = api.size([1,0])[0];
    const cx = api.coord([g,0])[0];
    const Y = v => api.coord([g,v])[1];
    const box=(g?bHrsBox:bNbmBox)[i], vio=(g?bHrsViolin:bNbmViolin)[i], dots=(g?bHrsDots:bNbmDots)[i], cis=(g?bHrsCi:bNbmCi)[i];
    const ch = [];
    cis.forEach((c,k)=>{ const xx = cx + JIT_CI[k%JIT_CI.length]*bw;
      ch.push({type:'line', shape:{x1:xx,y1:Y(c[0]),x2:xx,y2:Y(c[1])}, style:{stroke:'#6f6f6f', lineWidth:0.8, lineDash:[1.2,1.6]}}); });
    const lp = vio.map(q=>[cx - q[1]*bw, Y(q[0])]);
    const rp = vio.slice().reverse().map(q=>[cx + q[1]*bw, Y(q[0])]);
    ch.push({type:'polygon', shape:{points:lp.concat(rp)}, style:{fill:g?'rgba(228,112,82,0.55)':'rgba(98,130,190,0.5)', stroke:'#5a5a5a', lineWidth:0.7}});
    const hw = 0.34*bw;
    ch.push({type:'rect', shape:{x:cx-hw, y:Y(box[2]), width:2*hw, height:Y(box[0])-Y(box[2])}, style:{fill:g?'rgba(214,96,66,0.6)':'rgba(98,130,190,0.62)', stroke:'#555', lineWidth:0.8}});
    ch.push({type:'line', shape:{x1:cx-hw,y1:Y(box[1]),x2:cx+hw,y2:Y(box[1])}, style:{stroke:'#333', lineWidth:1.5}});
    dots.forEach((v,k)=>{ ch.push({type:'circle', shape:{cx:cx + JIT_DOT[k%JIT_DOT.length]*bw, cy:Y(v), r:2.6}, style:{fill:g?'#ee6a3c':'#5a7fc4', stroke:'#111', lineWidth:0.7}}); });
    if(g===0){
      const x1 = cx, x2 = api.coord([1,0])[0];
      const top = api.coord([0, bRanges[i][1]])[1] + 6.5;
      const st = {stroke:'#555', lineWidth:0.9};
      ch.push({type:'line', shape:{x1:x1,y1:top,x2:x2,y2:top}, style:st});
      ch.push({type:'line', shape:{x1:x1,y1:top,x2:x1,y2:top+4}, style:st});
      ch.push({type:'line', shape:{x1:x2,y1:top,x2:x2,y2:top+4}, style:st});
      ch.push({type:'text', x:(x1+x2)/2, y:top+9, style:sty({text:bPvals[i], font:'9.5px '+FONT, fill:'#333', align:'center', verticalAlign:'middle'})});
    }
    return {type:'group', children:ch};
  };
}
for(let i=0;i<6;i++){
  const r = Math.floor(i/3), c = i%3;
  const g = addGrid({left:bLeft[c], top:bTop[r], width:bW, height:bH[r], show:true, borderColor:'#8c8c8c', borderWidth:1.2, backgroundColor:'#ffffff'});
  xAxis.push(cAxis(g,bGroups,{label:r===1, tick:r===1, fs:10.5, margin:4}));
  yAxis.push(vAxis(g,bRanges[i][0],bRanges[i][1],bTicks[i],{fs:9.5, margin:3}));
  series.push({type:'custom', xAxisIndex:g, yAxisIndex:g, silent:true, z:5, data:[[0,0],[1,0]], renderItem:makeBRender(i)});
  gText(bLeft[c]+bW/2, bTop[r]-7, bTitles[i], 'italic 11px '+FONT);
}
gText(441,181,'Chao index','12px '+FONT,{rotation:Math.PI/2});

// ---------- Panel C ----------
const cBox = [[54,417,165,44],[226,417,129,44],[54,468,165,158],[226,468,129,158]];
const gC = cBox.map(b=>addGrid({left:b[0], top:b[1], width:b[2], height:b[3], show:false}));
xAxis.push(cAxis(gC[0],cPatients,{})); yAxis.push(vAxis(gC[0],89.3,104.4,cTicksTop,{line:true, fs:12.5, lc:'#333', margin:4}));
xAxis.push(cAxis(gC[1],cDonors,{}));   yAxis.push(vAxis(gC[1],89.3,104.4,cTicksTop,{label:false, tick:false}));
xAxis.push(cAxis(gC[2],cPatients,{line:true, tick:true, label:true, rotate:60, fs:11.5, margin:5, lc:'#333'})); yAxis.push(vAxis(gC[2],-2.5,52.4,cTicksBottom,{line:true, fs:12.5, lc:'#333', margin:4}));
xAxis.push(cAxis(gC[3],cDonors,{line:true, tick:true, label:true, rotate:60, fs:11.5, margin:5, lc:'#333'}));   yAxis.push(vAxis(gC[3],-2.5,52.4,cTicksBottom,{label:false, tick:false}));
[gC[0],gC[2]].forEach(g=>stackBars(g,cPatExpanded,cPatMedium,cPatLarge,{barCategoryGap:'12%'}));
[gC[1],gC[3]].forEach(g=>stackBars(g,cHdExpanded,cHdMedium,cHdLarge,{barCategoryGap:'12%'}));
errSeries(gC[0], cPatients.map((_,k)=>[k,100,cPatErrTop[k]]));
errSeries(gC[1], cDonors.map((_,k)=>[k,100,cHdErrTop[k]]));
(function(){
  const it=[]; cPatients.forEach((_,k)=>{ it.push([k,cPatExpanded[k],cPatErrExp[k]]); it.push([k,cPatMedium[k]+cPatLarge[k],cPatErrMed[k]]); if(cPatErrLarge[k]>0) it.push([k,cPatLarge[k],cPatErrLarge[k]]); });
  errSeries(gC[2], it);
  const it2=[]; cDonors.forEach((_,k)=>{ it2.push([k,cHdExpanded[k],cHdErrExp[k]]); it2.push([k,cHdMedium[k]+cHdLarge[k],cHdErrMed[k]]); });
  errSeries(gC[3], it2);
})();
gText(136.5,408,'Patient BM','italic 14px '+FONT);
gText(290.5,408,'NBM','italic 14px '+FONT);
gText(14,528,'% Clones','14px '+FONT,{rotation:Math.PI/2});
gText(378.5,444,'Clone Size','9px '+FONT,{align:'left'});
[COL.rare,COL.small,COL.medium,COL.large].forEach((col,k)=>{
  gRect(379,453.3+k*14.3,12.7,12.7,col);
  gText(397,459.7+k*14.3,cloneSizeNames[k],'8px '+FONT,{align:'left', fill:'#333'});
});
gText(380.5,538.7,'Clone Size','9px '+FONT,{align:'left'});
gRect(380,548,15,29.5,'#ececec');
gCircle(387.7,555.3,2,'#4a62a8'); gCircle(387.7,570.7,2,'#d01818');
gText(400,555.3,'Rare (x<=1%)','8px '+FONT,{align:'left', fill:'#333'});
gText(400,570.7,'Expanded (x>1%)','8px '+FONT,{align:'left', fill:'#333'});

// ---------- Panel D ----------
const gD = [addGrid({left:496, top:411, width:291, height:113, show:true, borderColor:'#8c8c8c', borderWidth:1.2, backgroundColor:'#fff'}),
            addGrid({left:496, top:550, width:291, height:113, show:true, borderColor:'#8c8c8c', borderWidth:1.2, backgroundColor:'#fff'})];
xAxis.push(vAxis(gD[0],-11.1,7.6,dTicksX,{label:false, tick:false})); yAxis.push(vAxis(gD[0],-5.44,6.28,dTicksY,{pos:'right', fs:11, margin:3}));
xAxis.push(vAxis(gD[1],-11.1,7.6,dTicksX,{fs:11, margin:3})); yAxis.push(vAxis(gD[1],-5.44,6.28,dTicksY,{pos:'right', fs:11, margin:3}));
[[gD[0],dRedPatient,0.16],[gD[1],dRedNbm,0.26]].forEach(function(s){
  series.push({type:'scatter', xAxisIndex:s[0], yAxisIndex:s[0], data:dBlueCloud, symbolSize:12, silent:true, z:3,
    itemStyle:{color:'rgba(62,98,176,'+s[2]+')', borderWidth:0, shadowBlur:7, shadowColor:'rgba(62,98,176,'+s[2]+')'}});
  series.push({type:'scatter', xAxisIndex:s[0], yAxisIndex:s[0], data:dRedBlob, symbolSize:7.5, silent:true, z:4, itemStyle:{color:'#cc1111', borderColor:'#8a0000', borderWidth:0.4}});
  series.push({type:'scatter', xAxisIndex:s[0], yAxisIndex:s[0], data:s[1], symbolSize:5.5, silent:true, z:4, itemStyle:{color:'#cc1111', borderColor:'#8a0000', borderWidth:0.4}});
  textSeries(s[0], dLabelX, dLabelY, dLabelText, '14.5px '+FONT);
});
gText(641,401,'Patient BM','italic 14px '+FONT);
gText(641,540,'NBM','italic 14px '+FONT);
gText(809,538,'UMAP_2','13.5px '+FONT,{rotation:-Math.PI/2});
gText(669,687,'UMAP_1','13.5px '+FONT);

// ---------- Panel E ----------
const gE = [addGrid({left:107, top:716, width:105, height:116, show:true, borderColor:'#8c8c8c', borderWidth:1.2}),
            addGrid({left:107, top:837, width:105, height:116, show:true, borderColor:'#8c8c8c', borderWidth:1.2})];
xAxis.push(cAxis(gE[0],eCats,{})); yAxis.push(vAxis(gE[0],-5.3,111.3,eTicks,{fs:12.5, lc:'#333', margin:3}));
xAxis.push(cAxis(gE[1],eCats,{tick:true, label:true, rotate:63, fs:11.5, margin:5, lc:'#333'})); yAxis.push(vAxis(gE[1],-5,111.6,eTicks,{fs:12.5, lc:'#333', margin:3}));
stackBars(gE[0],ePatExpanded,ePatMedium,ePatLarge,{barWidth:13});
stackBars(gE[1],eNbmExpanded,eNbmMedium,eNbmLarge,{barWidth:13});
(function(){
  const a=[]; eCats.forEach((_,k)=>{ a.push([k,100,ePatErrTop[k]]); a.push([k,ePatExpanded[k],ePatErrExp[k]]); a.push([k,ePatMedium[k]+ePatLarge[k],ePatErrMed[k]]); });
  errSeries(gE[0],a);
  const b=[]; eCats.forEach((_,k)=>{ b.push([k,100,eNbmErrTop[k]]); b.push([k,eNbmExpanded[k],eNbmErrExp[k]]); if(eNbmErrMed[k]>0) b.push([k,eNbmMedium[k]+eNbmLarge[k],eNbmErrMed[k]]); });
  errSeries(gE[1],b);
})();
gE.forEach(g=>textSeries(g, eCats.map((_,k)=>k), eCats.map(()=>107.5), eStars, '11px '+FONT));
gText(222,773,'Patient BM','italic 13px '+FONT,{rotation:-Math.PI/2});
gText(222,896,'NBM','italic 13px '+FONT,{rotation:-Math.PI/2});
gText(76,835,'% Clones','13px '+FONT,{rotation:Math.PI/2});
gText(244.5,805,'Clone Size','9px '+FONT,{align:'left'});
[COL.rare,COL.small,COL.medium,COL.large].forEach((col,k)=>{
  gRect(245,814.5+k*13.7,12.5,12.5,col);
  gText(262.5,820.7+k*13.7,cloneSizeNames[k],'8px '+FONT,{align:'left', fill:'#333'});
});

// ---------- Panel F ----------
const gF = addGrid({left:451, top:725, width:367, height:285, show:true, borderColor:'#8c8c8c', borderWidth:1.2, backgroundColor:'#fff'});
xAxis.push(vAxis(gF,-1.1,1.1,fTicksX,{fs:12.5, lc:'#333', margin:4, fmt:function(v){return v.toFixed(1);}}));
yAxis.push(vAxis(gF,-9.2,204.5,fTicksY,{fs:12.5, lc:'#333', margin:4}));
series.push({type:'scatter', xAxisIndex:gF, yAxisIndex:gF, data:fBlue, symbolSize:7.5, silent:true, z:3, itemStyle:{color:'#4c6ca9'},
  markLine:{silent:true, symbol:['none','none'], label:{show:false}, lineStyle:{type:'dashed', color:'#444', width:1.2}, data:[{xAxis:0},{yAxis:1.3}]}});
series.push({type:'scatter', xAxisIndex:gF, yAxisIndex:gF, data:fLightBlue, symbolSize:6.5, silent:true, z:3, itemStyle:{color:'#a9d1e6'}});
series.push({type:'scatter', xAxisIndex:gF, yAxisIndex:gF, data:fRed, symbolSize:7.5, silent:true, z:3, itemStyle:{color:'#cf1b1b'}});
series.push({type:'scatter', xAxisIndex:gF, yAxisIndex:gF, data:fSalmon, symbolSize:6.5, silent:true, z:3, itemStyle:{color:'#e8674a'}});
series.push({type:'custom', xAxisIndex:gF, yAxisIndex:gF, silent:true, z:8, data:fLabels.map(l=>[l[1],l[2]]),
  renderItem:function(p,api){
    const L = fLabels[p.dataIndex];
    const a = api.coord([L[1],L[2]]), b = api.coord([L[3],L[4]]);
    const left = L[1] < 0;
    let ex = b[0], ey = b[1];
    if(L[5]==='center'){ ey = b[1] + (a[1] > b[1] ? 6 : -6); }
    const tx = b[0] + (L[5]==='left'?1:(L[5]==='right'?-1:0));
    return {type:'group', children:[
      {type:'line', shape:{x1:a[0],y1:a[1],x2:ex,y2:ey}, style:{stroke:'#8a8a8a', lineWidth:1, lineDash:left?[4,3]:[]}},
      {type:'text', x:tx, y:b[1], style:sty({text:L[0], font:'italic 10.5px '+FONT, fill:'#1a1a1a', align:L[5], verticalAlign:'middle'})}]};
  }});
gText(462,744,'NBM','italic 16px '+FONT,{align:'left'});
gText(812,744,'Patient BM','italic 16px '+FONT,{align:'right'});
gText(634,1035,'Log₂FC','15px '+FONT);
gText(412,870,'-Log₁₀(q-value)','15px '+FONT,{rotation:Math.PI/2});
gRect(465,935.5,13,51.5,'#ececec');
['#e8674a','#cf1b1b','#a9d1e6','#4c6ca9'].forEach((col,k)=>{
  gCircle(471.5,942.3+k*12.9,2.3,col);
  gText(481.7,942.3+k*12.9,fLegendNames[k],'8px '+FONT,{align:'left', fill:'#333'});
});

// ---------- Panel letters ----------
[['A',2,7],['B',431,7],['C',2,401],['D',483,401],['E',2,722],['F',398,722]].forEach(l=>gText(l[1],l[2],l[0],'bold 16px '+FONT,{align:'left'}));

chart.setOption({animation:false, backgroundColor:'#ffffff', grid:grid, xAxis:xAxis, yAxis:yAxis, series:series, graphic:{elements:graphic}});
</script>
</body>
</html>
